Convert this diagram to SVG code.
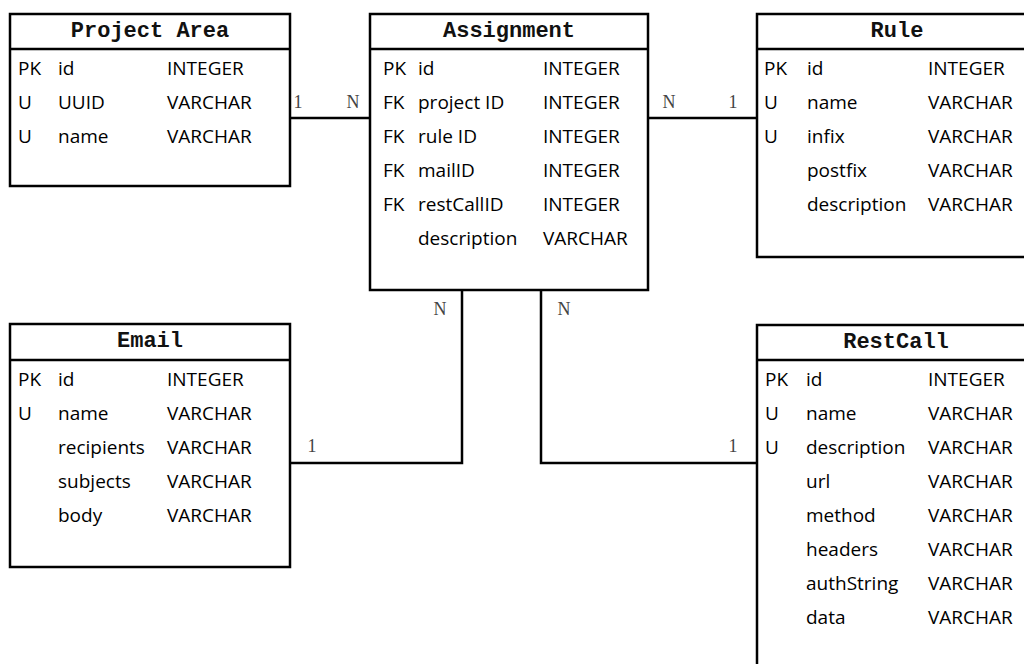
<svg xmlns="http://www.w3.org/2000/svg" width="1024" height="664" viewBox="0 0 1024 664">
  <style>
    .box { fill: #ffffff; stroke: #000000; stroke-width: 2.5; }
    .sep { stroke: #000000; stroke-width: 2.5; }
    .title { font-family: "Liberation Mono", "Courier New", monospace; font-weight: bold; font-size: 22px; text-anchor: middle; fill: #111; }
    .row { font-family: "Open Sans", "Noto Sans", sans-serif; font-size: 19px; fill: #000; }
    .edge { fill: none; stroke: #000000; stroke-width: 2.5; }
    .card { font-family: "Liberation Serif", "Times New Roman", serif; font-size: 18px; fill: #444; text-anchor: middle; }
  </style>
  <rect width="1024" height="664" fill="#ffffff"/>

  <!-- relationships -->
  <g id="connectors">
    <path class="edge" d="M290 118 H370"/>
    <path class="edge" d="M648 118 H757"/>
    <path class="edge" d="M462 290 V463 H290"/>
    <path class="edge" d="M541 290 V463 H757"/>
    <text class="card" x="298" y="108">1</text>
    <text class="card" x="353" y="108">N</text>
    <text class="card" x="669" y="108">N</text>
    <text class="card" x="733" y="108">1</text>
    <text class="card" x="440" y="315">N</text>
    <text class="card" x="564" y="315">N</text>
    <text class="card" x="312" y="452">1</text>
    <text class="card" x="733" y="452">1</text>
  </g>

  <!-- Project Area -->
  <g id="project-area">
    <rect class="box" x="10" y="14" width="280" height="172"/>
    <line class="sep" x1="10" y1="49" x2="290" y2="49"/>
    <text class="title" x="150" y="37">Project Area</text>
    <text class="row" y="75"><tspan x="18">PK</tspan><tspan x="58">id</tspan><tspan x="167">INTEGER</tspan></text>
    <text class="row" y="109"><tspan x="18">U</tspan><tspan x="58">UUID</tspan><tspan x="167">VARCHAR</tspan></text>
    <text class="row" y="143"><tspan x="18">U</tspan><tspan x="58">name</tspan><tspan x="167">VARCHAR</tspan></text>
  </g>

  <!-- Assignment -->
  <g id="assignment">
    <rect class="box" x="370" y="14" width="278" height="276"/>
    <line class="sep" x1="370" y1="49" x2="648" y2="49"/>
    <text class="title" x="509" y="37">Assignment</text>
    <text class="row" y="75"><tspan x="383">PK</tspan><tspan x="418">id</tspan><tspan x="543">INTEGER</tspan></text>
    <text class="row" y="109"><tspan x="383">FK</tspan><tspan x="418">project ID</tspan><tspan x="543">INTEGER</tspan></text>
    <text class="row" y="143"><tspan x="383">FK</tspan><tspan x="418">rule ID</tspan><tspan x="543">INTEGER</tspan></text>
    <text class="row" y="177"><tspan x="383">FK</tspan><tspan x="418">mailID</tspan><tspan x="543">INTEGER</tspan></text>
    <text class="row" y="211"><tspan x="383">FK</tspan><tspan x="418">restCallID</tspan><tspan x="543">INTEGER</tspan></text>
    <text class="row" y="245"><tspan x="418">description</tspan><tspan x="543">VARCHAR</tspan></text>
  </g>

  <!-- Rule -->
  <g id="rule">
    <rect class="box" x="757" y="14" width="280" height="243"/>
    <line class="sep" x1="757" y1="49" x2="1037" y2="49"/>
    <text class="title" x="897" y="37">Rule</text>
    <text class="row" y="75"><tspan x="764">PK</tspan><tspan x="807">id</tspan><tspan x="928">INTEGER</tspan></text>
    <text class="row" y="109"><tspan x="764">U</tspan><tspan x="807">name</tspan><tspan x="928">VARCHAR</tspan></text>
    <text class="row" y="143"><tspan x="764">U</tspan><tspan x="807">infix</tspan><tspan x="928">VARCHAR</tspan></text>
    <text class="row" y="177"><tspan x="807">postfix</tspan><tspan x="928">VARCHAR</tspan></text>
    <text class="row" y="211"><tspan x="807">description</tspan><tspan x="928">VARCHAR</tspan></text>
  </g>

  <!-- Email -->
  <g id="email">
    <rect class="box" x="10" y="324" width="280" height="243"/>
    <line class="sep" x1="10" y1="360" x2="290" y2="360"/>
    <text class="title" x="150" y="347">Email</text>
    <text class="row" y="386"><tspan x="18">PK</tspan><tspan x="58">id</tspan><tspan x="167">INTEGER</tspan></text>
    <text class="row" y="420"><tspan x="18">U</tspan><tspan x="58">name</tspan><tspan x="167">VARCHAR</tspan></text>
    <text class="row" y="454"><tspan x="58">recipients</tspan><tspan x="167">VARCHAR</tspan></text>
    <text class="row" y="488"><tspan x="58">subjects</tspan><tspan x="167">VARCHAR</tspan></text>
    <text class="row" y="522"><tspan x="58">body</tspan><tspan x="167">VARCHAR</tspan></text>
  </g>

  <!-- RestCall -->
  <g id="restcall">
    <rect class="box" x="757" y="325" width="280" height="360"/>
    <line class="sep" x1="757" y1="360" x2="1037" y2="360"/>
    <text class="title" x="896" y="348">RestCall</text>
    <text class="row" y="386"><tspan x="765">PK</tspan><tspan x="806">id</tspan><tspan x="928">INTEGER</tspan></text>
    <text class="row" y="420"><tspan x="765">U</tspan><tspan x="806">name</tspan><tspan x="928">VARCHAR</tspan></text>
    <text class="row" y="454"><tspan x="765">U</tspan><tspan x="806">description</tspan><tspan x="928">VARCHAR</tspan></text>
    <text class="row" y="488"><tspan x="806">url</tspan><tspan x="928">VARCHAR</tspan></text>
    <text class="row" y="522"><tspan x="806">method</tspan><tspan x="928">VARCHAR</tspan></text>
    <text class="row" y="556"><tspan x="806">headers</tspan><tspan x="928">VARCHAR</tspan></text>
    <text class="row" y="590"><tspan x="806">authString</tspan><tspan x="928">VARCHAR</tspan></text>
    <text class="row" y="624"><tspan x="806">data</tspan><tspan x="928">VARCHAR</tspan></text>
  </g>
</svg>
